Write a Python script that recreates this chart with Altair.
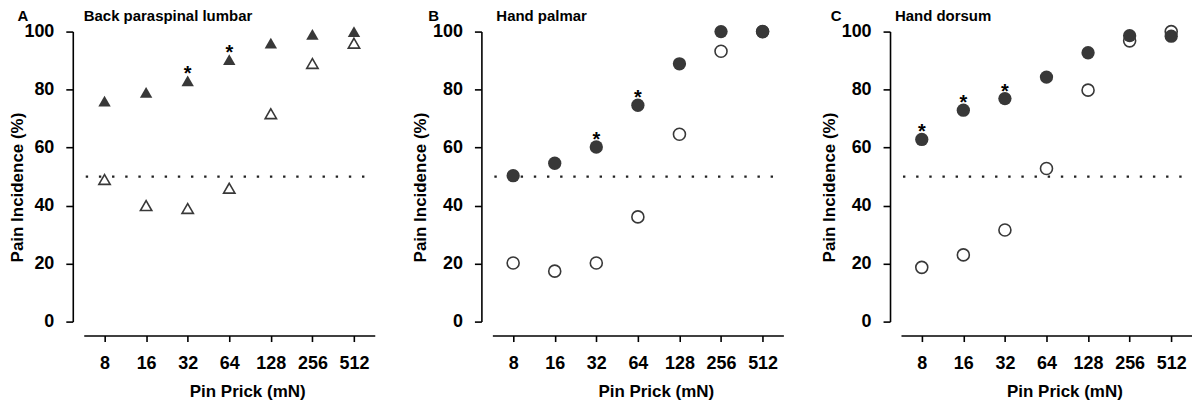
import altair as alt
import pandas as pd

FONT = "Liberation Sans"

forces = ["8", "16", "32", "64", "128", "256", "512"]

panel_letters = ["A", "B", "C"]
panel_names = ["Back paraspinal lumbar", "Hand palmar", "Hand dorsum"]
panel_shapes = ["triangle-up", "circle", "circle"]

a_filled = [76, 79, 83, 90.3, 96, 99, 100]
a_open = [49, 40, 39, 46, 71.7, 89, 96]
a_star = [False, False, True, True, False, False, False]

b_filled = [50.3, 54.6, 60.2, 74.6, 88.9, 100, 100]
b_open = [20.2, 17.4, 20.2, 36.1, 64.6, 93.2, 100]
b_star = [False, False, True, True, False, False, False]

c_filled = [62.8, 72.9, 76.9, 84.3, 92.7, 98.6, 98.4]
c_open = [18.7, 23, 31.6, 52.8, 79.8, 96.8, 100]
c_star = [True, True, True, False, False, False, False]

threshold = [50]
y_ticks = [0, 20, 40, 60, 80, 100]

W = 303
H = 291
DARK = "#383838"


def panel(letter, name, shape, filled, opened, stars, ytitle_x, letter_x, name_x):
    df = pd.DataFrame({"force": forces, "filled": filled, "open": opened, "star": stars})
    xenc = alt.X(
        "force:O",
        sort=forces,
        scale=alt.Scale(type="point", padding=0.5, range=[11, W]),
        axis=alt.Axis(
            title="Pin Prick (mN)",
            labelAngle=0,
            offset=14,
            tickSize=6,
            labelPadding=13,
            labelFontSize=18,
            titleFontSize=17,
            titleX=175,
            titleY=56,
            titleBaseline="middle",
        ),
    )
    yscale = alt.Scale(domain=[0, 100], nice=False, zero=True)
    yaxis = alt.Axis(
        values=y_ticks,
        tickSize=7,
        labelPadding=12,
        labelFontSize=18,
        title="Pain Incidence (%)",
        titleFontSize=17,
        titleX=ytitle_x,
        titleY=156,
        titleBaseline="middle",
        titleAngle=-90,
        titleAlign="center",
    )
    base = alt.Chart(df)
    ref = alt.Chart(pd.DataFrame({"y": threshold})).mark_rule(
        strokeDash=[2.4, 10.8], strokeWidth=2.2, color="#222222"
    ).encode(y=alt.Y("y:Q", scale=yscale, axis=yaxis), x=alt.value(13), x2=alt.value(296))
    size_f = 155 if shape == "triangle-up" else 178
    size_o = 130 if shape == "triangle-up" else 145
    open_m = base.mark_point(
        shape=shape, filled=True, fill="white", stroke=DARK, strokeWidth=1.6, size=size_o, opacity=1
    ).encode(x=xenc, y=alt.Y("open:Q", scale=yscale, axis=yaxis))
    fill_m = base.mark_point(
        shape=shape, filled=True, fill=DARK, size=size_f, opacity=1
    ).encode(x=xenc, y=alt.Y("filled:Q", scale=yscale, axis=yaxis))
    star_m = base.transform_filter("datum.star").mark_text(
        text="*", fontSize=20, fontWeight="bold", font=FONT, dy=-7, baseline="middle", color="#000000"
    ).encode(x=xenc, y=alt.Y("filled:Q", scale=yscale, axis=yaxis))
    lab = pd.DataFrame({"letter": [letter], "name": [name]})
    let_m = alt.Chart(lab).mark_text(
        align="center", baseline="top", fontSize=15, fontWeight="bold", font=FONT, color="#000000"
    ).encode(text="letter:N", x=alt.value(letter_x), y=alt.value(-23))
    name_m = alt.Chart(lab).mark_text(
        align="left", baseline="top", fontSize=15, fontWeight="bold", font=FONT, color="#000000"
    ).encode(text="name:N", x=alt.value(name_x), y=alt.value(-23))
    return alt.layer(ref, open_m, fill_m, star_m, let_m, name_m).properties(width=W, height=H)


pa = panel(panel_letters[0], panel_names[0], panel_shapes[0], a_filled, a_open, a_star, -55.5, -50, 11)
pb = panel(panel_letters[1], panel_names[1], panel_shapes[1], b_filled, b_open, b_star, -61, -48, 15)
pc = panel(panel_letters[2], panel_names[2], panel_shapes[2], c_filled, c_open, c_star, -61, -54, 5)

chart = alt.hconcat(pa, pb, pc, spacing=107, bounds="flush").properties(
    padding={"left": 0, "top": 0, "right": 0, "bottom": 0}
).configure_view(stroke=None).configure_axis(
    grid=False,
    domainColor="#000000",
    domainWidth=1.6,
    tickColor="#000000",
    tickWidth=1.6,
    labelFont=FONT,
    labelFontWeight="bold",
    labelColor="#000000",
    titleFont=FONT,
    titleFontWeight="bold",
    titleColor="#000000",
)

chart.save("out.html", embed_options={"renderer": "svg", "actions": False})
